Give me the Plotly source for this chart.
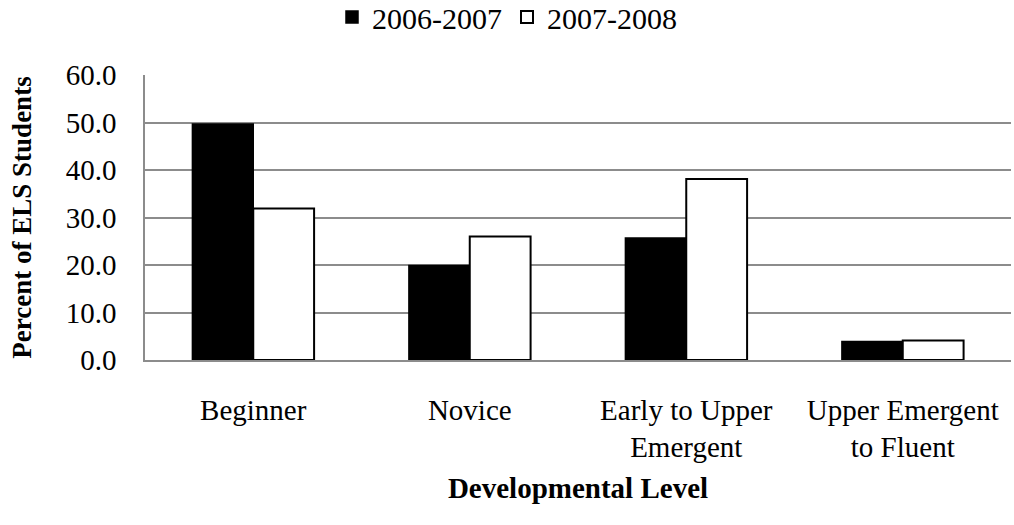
import plotly.graph_objects as go

categories = ["Beginner", "Novice", "Early to Upper<br>Emergent", "Upper Emergent<br>to Fluent"]
series_names = ["2006-2007", "2007-2008"]
values_2006_2007 = [49.7, 19.9, 25.7, 3.9]
values_2007_2008 = [31.9, 26.0, 38.1, 4.1]
y_ticks = [0, 10, 20, 30, 40, 50, 60]

FONT = "Liberation Serif, Times New Roman, serif"
FS = 29

fig = go.Figure()
fig.add_trace(go.Bar(x=categories, y=values_2006_2007, name=series_names[0],
                     marker=dict(color="#000000", line=dict(color="#000000", width=1.5))))
fig.add_trace(go.Bar(x=categories, y=values_2007_2008, name=series_names[1],
                     marker=dict(color="#ffffff", line=dict(color="#000000", width=2))))

fig.update_layout(
    width=1014, height=525,
    margin=dict(l=145, r=3, t=75, b=165, autoexpand=False),
    paper_bgcolor="white", plot_bgcolor="white",
    font=dict(family=FONT, size=FS, color="black"),
    barmode="group", bargap=0.438, bargroupgap=0,
    legend=dict(orientation="h", xref="container", x=0.5, xanchor="center", y=1.2035,
                yanchor="middle", font=dict(size=30), itemwidth=30, traceorder="normal",
                tracegroupgap=0),
    showlegend=True,
)
fig.update_yaxes(range=[0, 60], tickvals=y_ticks, tickformat=".1f", automargin=False,
                 showgrid=True, gridcolor="#8c8c8c", gridwidth=1.5,
                 showline=True, linecolor="#8c8c8c", linewidth=1.5,
                 zeroline=False, ticks="", ticklabelstandoff=21,
                 title=dict(text="<b>Percent of ELS Students</b>", font=dict(size=27), standoff=26))
fig.update_xaxes(showline=True, linecolor="#8c8c8c", linewidth=1.5, showgrid=False,
                 ticks="", ticklabelstandoff=23, automargin=False,
                 title=dict(text="<b>Developmental Level</b>", font=dict(size=FS), standoff=15))

fig.write_html("out.html", config={"displayModeBar": False},
               post_script="document.body.style.margin='0';")
